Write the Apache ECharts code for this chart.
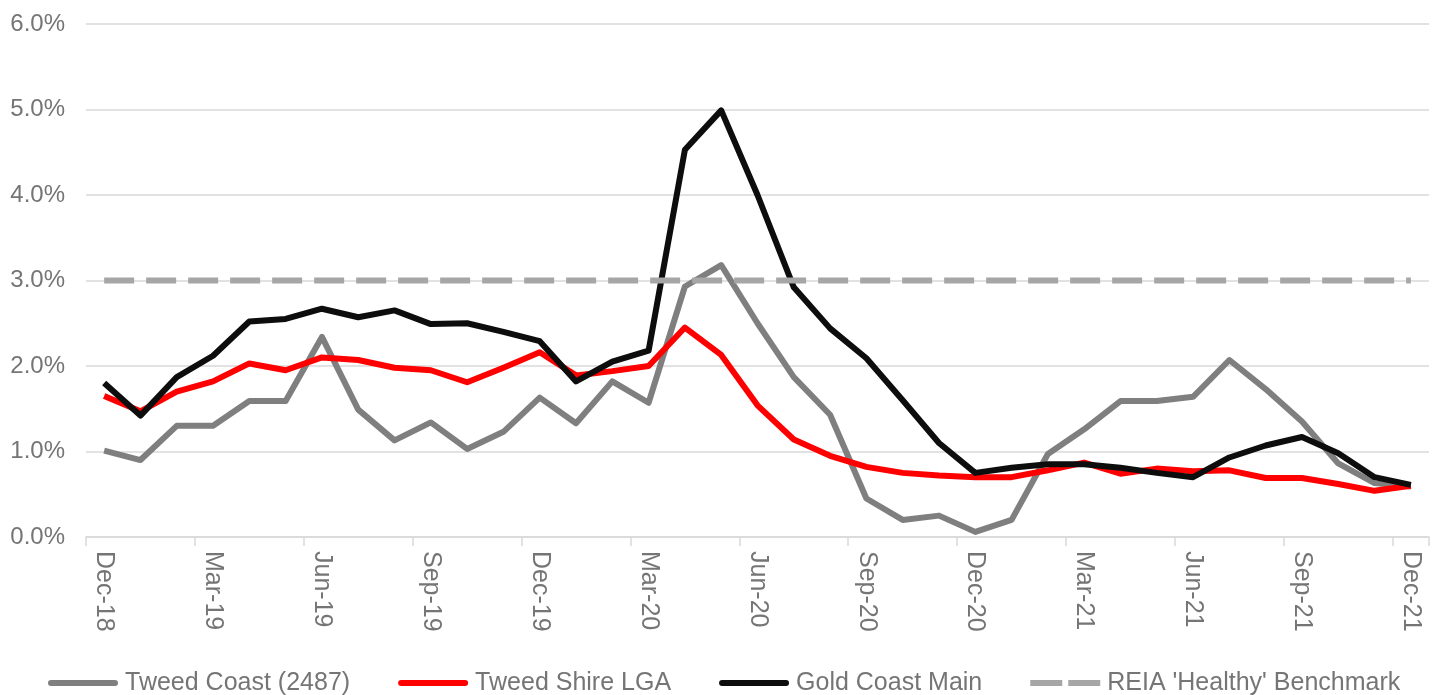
<!DOCTYPE html>
<html>
<head>
<meta charset="utf-8">
<script src="https://cdn.jsdelivr.net/npm/echarts@6/dist/echarts.min.js"></script>
<style>
html,body{margin:0;padding:0;background:#fff;}
#chart{width:1438px;height:695px;}
</style>
</head>
<body>
<div id="chart"></div>
<script>
const months = ['Dec-18','Jan-19','Feb-19','Mar-19','Apr-19','May-19','Jun-19','Jul-19','Aug-19','Sep-19','Oct-19','Nov-19',
  'Dec-19','Jan-20','Feb-20','Mar-20','Apr-20','May-20','Jun-20','Jul-20','Aug-20','Sep-20','Oct-20','Nov-20',
  'Dec-20','Jan-21','Feb-21','Mar-21','Apr-21','May-21','Jun-21','Jul-21','Aug-21','Sep-21','Oct-21','Nov-21','Dec-21'];
const tweedCoast = [1.01,0.90,1.30,1.30,1.59,1.59,2.34,1.49,1.13,1.34,1.03,1.23,
  1.63,1.33,1.82,1.57,2.93,3.18,2.50,1.87,1.43,0.45,0.20,0.25,
  0.06,0.20,0.97,1.26,1.59,1.59,1.64,2.07,1.73,1.35,0.86,0.63,0.59];
const tweedShire = [1.65,1.47,1.70,1.82,2.03,1.95,2.10,2.07,1.98,1.95,1.81,1.98,
  2.16,1.89,1.94,2.00,2.45,2.13,1.54,1.14,0.95,0.82,0.75,0.72,
  0.70,0.70,0.78,0.87,0.74,0.80,0.77,0.78,0.69,0.69,0.62,0.54,0.60];
const goldCoast = [1.80,1.42,1.87,2.12,2.52,2.55,2.67,2.57,2.65,2.49,2.50,2.40,
  2.29,1.82,2.05,2.18,4.53,4.99,4.00,2.92,2.44,2.09,1.60,1.10,
  0.75,0.81,0.85,0.85,0.81,0.75,0.70,0.93,1.07,1.17,0.98,0.70,0.61];
const benchmark = [3.0,3.0,3.0,3.0,3.0,3.0,3.0,3.0,3.0,3.0,3.0,3.0,
  3.0,3.0,3.0,3.0,3.0,3.0,3.0,3.0,3.0,3.0,3.0,3.0,
  3.0,3.0,3.0,3.0,3.0,3.0,3.0,3.0,3.0,3.0,3.0,3.0,3.0];
const seriesNames = ['Tweed Coast (2487)','Tweed Shire LGA','Gold Coast Main',"REIA 'Healthy' Benchmark"];

const FONT = 'Liberation Sans, Arial, sans-serif';
const TXT = '#757575';
const SOLID_ICON = 'path://M3,0H67A3,3,0,0,1,67,6H3A3,3,0,0,1,3,0Z';
const DASH_ICON = 'path://M0,0H32V6H0ZM38,0H70V6H38Z';
const chart = echarts.init(document.getElementById('chart'), null, {renderer:'canvas'});
function lineSeries(name, data, color, width, type) {
  return {
    name: name, type: 'line', data: data, symbol: 'none', smooth: false,
    lineStyle: {color: color, width: width, type: type || 'solid', cap: 'butt', join: 'round'},
    itemStyle: {color: color},
    emphasis: {disabled: true}, animation: false
  };
}
chart.setOption({
  animation: false,
  grid: {left: 86, right: 9, top: 24, bottom: 158, containLabel: false},
  legend: {
    left: 48, top: 670, padding: 0, itemWidth: 70, itemHeight: 6, itemGap: 48,
    itemStyle: {borderWidth: 0},
    textStyle: {fontFamily: FONT, fontSize: 25, color: TXT, lineHeight: 26, padding: [0,0,0,2]},
    data: [
      {name: seriesNames[0], icon: SOLID_ICON},
      {name: seriesNames[1], icon: SOLID_ICON},
      {name: seriesNames[2], icon: SOLID_ICON},
      {name: seriesNames[3], icon: DASH_ICON}
    ]
  },
  xAxis: {
    type: 'category', data: months, boundaryGap: true,
    axisLine: {lineStyle: {color: '#D9D9D9', width: 1.5}},
    axisTick: {show: true, interval: 2, length: 9, lineStyle: {color: '#D9D9D9', width: 1.5}},
    axisLabel: {interval: 2, rotate: -90, margin: 14, fontFamily: FONT, fontSize: 25, color: TXT}
  },
  yAxis: {
    type: 'value', min: 0, max: 6, interval: 1,
    axisLine: {show: false}, axisTick: {show: false},
    splitLine: {lineStyle: {color: '#D9D9D9', width: 1.5}},
    axisLabel: {margin: 21, fontFamily: FONT, fontSize: 24, color: TXT,
      formatter: v => v.toFixed(1) + '%'}
  },
  series: [
    lineSeries(seriesNames[0], tweedCoast, '#7F7F7F', 6),
    lineSeries(seriesNames[1], tweedShire, '#FF0000', 6),
    lineSeries(seriesNames[2], goldCoast, '#0D0D0D', 6),
    lineSeries(seriesNames[3], benchmark, '#A6A6A6', 6, [30, 12])
  ]
});
</script>
</body>
</html>
